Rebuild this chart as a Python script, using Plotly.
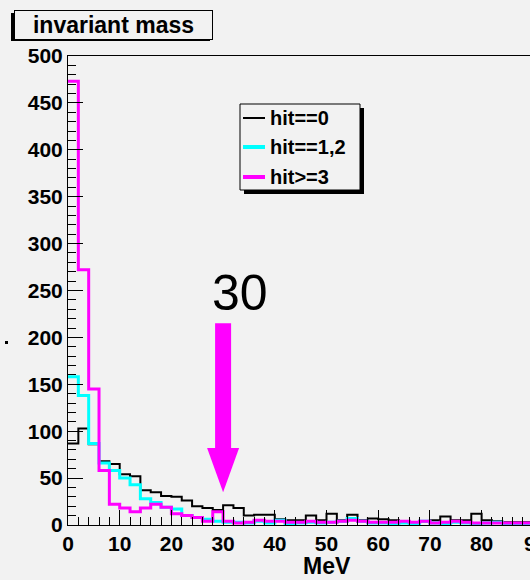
import plotly.graph_objects as go

# ---------------- data ----------------
bin_width = 2.0
n_bins = 50
hit0 = [87, 103, 86, 68, 65, 54, 52, 37, 35, 31, 30, 26, 20, 18, 16, 21,
        18, 10, 11, 11, 6, 5, 5, 10, 5, 12, 5, 11, 5, 7, 6, 5, 4, 3, 4, 5,
        9, 5, 5, 12, 5, 4, 3, 3, 3, 3, 3, 3, 2, 2]
hit12 = [158, 138, 87, 66, 58, 50, 43, 28, 24, 19, 17, 10, 8, 6, 4, 3,
         3, 2, 4, 2, 5, 1, 2, 3, 2, 3, 4, 7, 4, 2, 2, 1, 2, 1, 4, 2,
         1, 3, 2, 1, 2, 3, 1, 1, 1, 1, 1, 1, 1, 1]
hit3 = [473, 272, 145, 58, 22, 18, 14, 18, 22, 19, 12, 10, 8, 4, 14, 4,
        2, 3, 5, 4, 4, 3, 3, 4, 3, 3, 4, 5, 4, 3, 3, 3, 4, 3, 4, 2,
        3, 4, 3, 2, 2, 2, 2, 2, 2, 2, 2, 2, 2, 2]
series_names = ["hit==0", "hit==1,2", "hit>=3"]
series_colors = ["#000000", "#00ffff", "#ff00ff"]
series_widths = [2, 3, 3]
x_tick_vals = [0, 10, 20, 30, 40, 50, 60, 70, 80, 90]
y_tick_vals = [0, 50, 100, 150, 200, 250, 300, 350, 400, 450, 500]
x_full_range = [0, 100]
x_visible_max = 89.36
y_range = [0, 500]
cut_value = 30
cut_label = "30"
arrow_top, arrow_base, arrow_tip = 215, 82, 35
title_text = "invariant mass"
x_title = "MeV"

edges = [i * bin_width for i in range(n_bins + 1)]

# ---------------- geometry ----------------
W, H = 530, 580
ML, MR, MT, MB = 68, 0, 56, 55
PW, PH = W - ML - MR, H - MT - MB
px_per_x = PW / x_visible_max

def px2paper_x(px):
    return (px - ML) / PW

def px2paper_y(py):
    return (H - MB - py) / PH

BG = "#f2f2f2"
FONT = "Liberation Sans, Arial, Helvetica, sans-serif"

fig = go.Figure()
for vals, name, col, wd in zip([hit0, hit12, hit3], series_names, series_colors, series_widths):
    fig.add_trace(go.Scatter(
        x=edges, y=vals + [vals[-1]], mode="lines", name=name,
        line=dict(color=col, width=wd, shape="hv"), showlegend=False,
    ))

# arrow (cut marker) in data coordinates
shaft_half = 8 / px_per_x
head_half = 16 / px_per_x
fig.add_shape(type="rect", xref="x", yref="y",
              x0=cut_value - shaft_half, x1=cut_value + shaft_half,
              y0=arrow_base - 1, y1=arrow_top,
              fillcolor="#ff00ff", line=dict(width=0), layer="above")
fig.add_shape(type="path", xref="x", yref="y",
              path=f"M {cut_value - head_half},{arrow_base} L {cut_value + head_half},{arrow_base} L {cut_value},{arrow_tip} Z",
              fillcolor="#ff00ff", line=dict(width=0), layer="above")
fig.add_annotation(x=cut_value, y=247, xref="x", yref="y", xshift=17,
                   text=cut_label, showarrow=False,
                   font=dict(family=FONT, size=50, color="black"))

# title box with shadow
fig.add_shape(type="rect", xref="paper", yref="paper",
              x0=px2paper_x(11), x1=px2paper_x(210),
              y0=px2paper_y(41), y1=px2paper_y(13),
              fillcolor="black", line=dict(width=0), layer="above")
fig.add_annotation(xref="paper", yref="paper", x=px2paper_x(14), y=px2paper_y(10),
                   xanchor="left", yanchor="top", text=f"<b>{title_text}</b>",
                   showarrow=False, width=195, height=26, borderpad=1,
                   bgcolor=BG, bordercolor="black", borderwidth=1,
                   font=dict(family=FONT, size=23, color="black"))

# legend box (drawn manually) with shadow
lg_x0, lg_x1, lg_y0, lg_y1 = 240, 360, 104, 190
fig.add_shape(type="rect", xref="paper", yref="paper",
              x0=px2paper_x(lg_x0 + 4), x1=px2paper_x(lg_x1 + 4),
              y0=px2paper_y(lg_y1 + 4), y1=px2paper_y(lg_y0 + 4),
              fillcolor="black", line=dict(width=0), layer="above")
fig.add_shape(type="rect", xref="paper", yref="paper",
              x0=px2paper_x(lg_x0), x1=px2paper_x(lg_x1),
              y0=px2paper_y(lg_y1), y1=px2paper_y(lg_y0),
              fillcolor=BG, line=dict(width=1, color="black"), layer="above")
item_rows = [118, 147, 177]
sample_widths = [2, 4, 4]
for row, name, col, wd in zip(item_rows, series_names, series_colors, sample_widths):
    fig.add_shape(type="line", xref="paper", yref="paper",
                  x0=px2paper_x(243), x1=px2paper_x(265),
                  y0=px2paper_y(row), y1=px2paper_y(row),
                  line=dict(color=col, width=wd), layer="above")
    fig.add_annotation(xref="paper", yref="paper", x=px2paper_x(268), y=px2paper_y(row),
                       xanchor="left", yanchor="middle", text=f"<b>{name}</b>",
                       showarrow=False,
                       font=dict(family=FONT, size=20, color="black"))

# x-axis title at centre of full axis
fig.add_annotation(xref="paper", yref="paper",
                   x=px2paper_x(ML + px_per_x * sum(x_full_range) / 2), y=px2paper_y(566),
                   text=f"<b>{x_title}</b>", showarrow=False, yanchor="middle",
                   font=dict(family=FONT, size=23, color="black"))
# clipped last tick label
fig.add_annotation(xref="paper", yref="paper",
                   x=px2paper_x(ML + px_per_x * x_tick_vals[-1]), y=px2paper_y(543),
                   text=f"<b>{x_tick_vals[-1]}</b>", showarrow=False, yanchor="middle",
                   xanchor="center", xshift=2,
                   font=dict(family=FONT, size=21, color="black"))
# small stray mark at left
fig.add_shape(type="rect", xref="paper", yref="paper",
              x0=px2paper_x(5), x1=px2paper_x(8), y0=px2paper_y(344), y1=px2paper_y(341),
              fillcolor="black", line=dict(width=0))

fig.update_layout(
    width=W, height=H,
    margin=dict(l=ML, r=MR, t=MT, b=MB, autoexpand=False),
    paper_bgcolor=BG, plot_bgcolor=BG,
    showlegend=False,
    xaxis=dict(range=[0, x_visible_max], tickvals=x_tick_vals[:-1],
               ticks="inside", ticklen=15, tickcolor="black", tickwidth=1,
               minor=dict(ticks="inside", ticklen=8, dtick=2, tickcolor="black", showgrid=False),
               showline=True, linecolor="black", linewidth=1, mirror=True,
               showgrid=False, zeroline=False, automargin=False,
               tickfont=dict(family=FONT, size=21, color="black", weight="bold")),
    yaxis=dict(range=y_range, tickvals=y_tick_vals,
               ticks="inside", ticklen=15, tickcolor="black", tickwidth=1,
               minor=dict(ticks="inside", ticklen=8, dtick=10, tickcolor="black", showgrid=False),
               showline=True, linecolor="black", linewidth=1,
               showgrid=False, zeroline=False, automargin=False,
               tickfont=dict(family=FONT, size=21, color="black", weight="bold")),
)

fig.write_html("out.html")
